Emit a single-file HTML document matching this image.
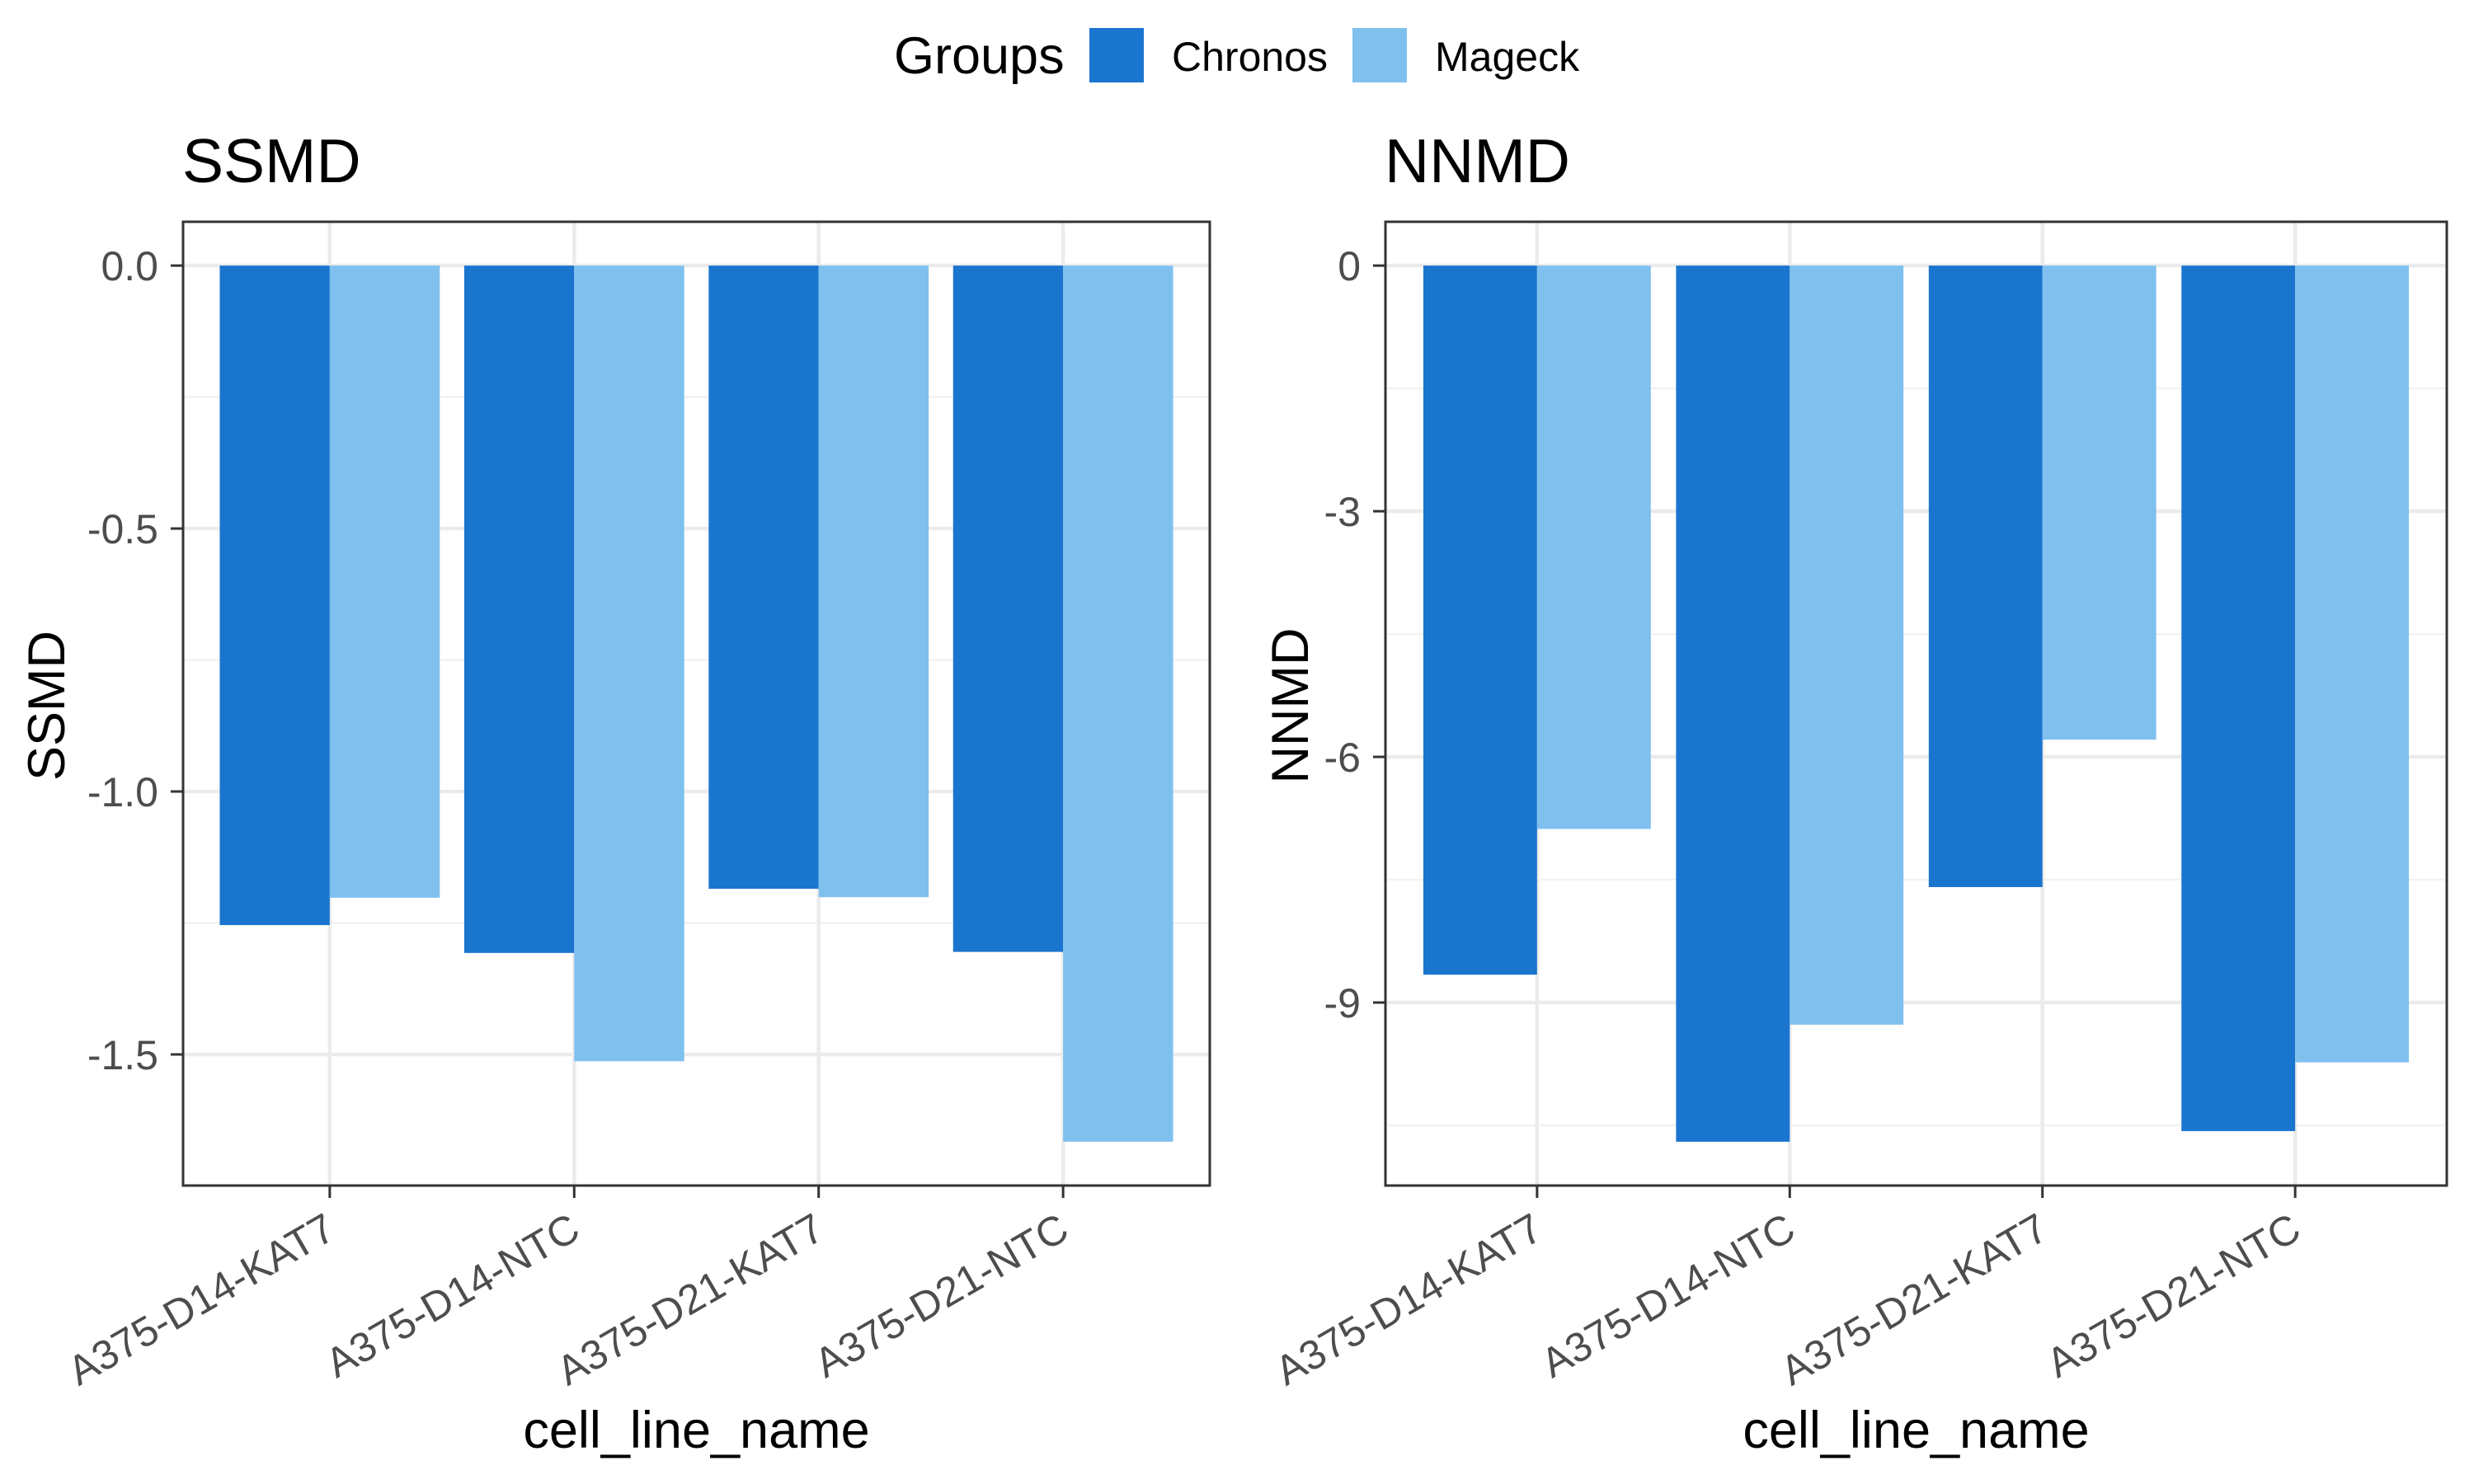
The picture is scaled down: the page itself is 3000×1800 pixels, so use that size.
<!DOCTYPE html>
<html><head><meta charset="utf-8"><style>
html,body{margin:0;padding:0;background:#fff;}
svg{display:block;font-family:"Liberation Sans",Arial,sans-serif;}
</style></head><body>
<svg id="chart" width="3000" height="1800" viewBox="0 0 3000 1800">
  <g id="legend">
    <text x="1084" y="89" font-size="63" fill="#000">Groups</text>
    <rect x="1321" y="34" width="66" height="66" fill="#1A75CF"/>
    <text x="1421" y="86" font-size="50" fill="#000">Chronos</text>
    <rect x="1640" y="34" width="66" height="66" fill="#7FC0EE"/>
    <text x="1740" y="86" font-size="50" fill="#000">Mageck</text>
  </g>
  <g id="p1"></g>
  <g id="p2"></g>
</svg>
<script>
const categories = ["A375-D14-KAT7","A375-D14-NTC","A375-D21-KAT7","A375-D21-NTC"];
const ssmdChronos = [-1.254, -1.307, -1.185, -1.305];
const ssmdMageck = [-1.202, -1.513, -1.201, -1.666];
const nnmdChronos = [-8.66, -10.70, -7.59, -10.57];
const nnmdMageck = [-6.88, -9.27, -5.79, -9.73];
const ssmdTicks = [0, -0.5, -1.0, -1.5];
const ssmdTickLabels = ["0.0","-0.5","-1.0","-1.5"];
const ssmdMinor = [-0.25, -0.75, -1.25];
const nnmdTicks = [0, -3, -6, -9];
const nnmdTickLabels = ["0","-3","-6","-9"];
const nnmdMinor = [-1.5, -4.5, -7.5, -10.5];

const NS = "http://www.w3.org/2000/svg";
function mk(parent, tag, attrs, text) {
  const e = document.createElementNS(NS, tag);
  for (const k in attrs) e.setAttribute(k, attrs[k]);
  if (text !== undefined) e.textContent = text;
  parent.appendChild(e);
  return e;
}

function drawPanel(g, cfg) {
  const L = cfg.left, R = cfg.right, T = 269, B = 1438;
  const min = Math.min(...cfg.c, ...cfg.m);
  const span = -min;
  const yMax = 0.05 * span, yMin = min - 0.05 * span;
  const y = v => T + (yMax - v) / (yMax - yMin) * (B - T);
  const step = (R - L) / (categories.length + 0.2);
  const x = i => L + step * (0.6 + i);

  let bg = mk(g, "rect", {x: L, y: T, width: R - L, height: B - T, fill: "#fff"});
  
  

  cfg.minor.forEach(v => {
    let l = mk(g, "line", {x1: L, x2: R, y1: y(v), y2: y(v), stroke: "#F2F2F2", "stroke-width": 2.5});
    
    
  });
  cfg.ticks.forEach(v => {
    let l = mk(g, "line", {x1: L, x2: R, y1: y(v), y2: y(v), stroke: "#EBEBEB", "stroke-width": 4.5});
    
    
  });
  categories.forEach((c, i) => {
    let l = mk(g, "line", {x1: x(i), x2: x(i), y1: T, y2: B, stroke: "#EBEBEB", "stroke-width": 4.5});
    
    
  });

  const bw = step * 0.45;
  categories.forEach((c, i) => {
    let b1 = mk(g, "rect", {x: x(i) - bw, y: y(0), width: bw, height: y(cfg.c[i]) - y(0), fill: "#1A75CF"});
    
    
    let b2 = mk(g, "rect", {x: x(i), y: y(0), width: bw, height: y(cfg.m[i]) - y(0), fill: "#7FC0EE"});
    
    
  });

  let br = mk(g, "rect", {x: L, y: T, width: R - L, height: B - T, fill: "none", stroke: "#333", "stroke-width": 3});
  
  

  cfg.ticks.forEach((v, k) => {
    let t = mk(g, "line", {x1: L - 15, x2: L, y1: y(v), y2: y(v), stroke: "#333", "stroke-width": 3});
    
    
    let tl = mk(g, "text", {x: L - 30, y: y(v) + 18, "text-anchor": "end", "font-size": 50, fill: "#4D4D4D"}, cfg.labels[k]);
    
    
  });
  categories.forEach((c, i) => {
    let t = mk(g, "line", {x1: x(i), x2: x(i), y1: B, y2: B + 15, stroke: "#333", "stroke-width": 3});
    
    
    let tl = mk(g, "text", {transform: "translate(" + (x(i) + 10) + ",1500) rotate(-30)", "text-anchor": "end", "font-size": 50, fill: "#4D4D4D"}, c);
    
    
  });

  let ti = mk(g, "text", {x: L - 1, y: 221, "font-size": 75, fill: "#000"}, cfg.title);
  
  
  let yt = mk(g, "text", {transform: "translate(" + cfg.yTitleX + ",856) rotate(-90)", "text-anchor": "middle", "font-size": 63, fill: "#000"}, cfg.title);
  
  
  let xt = mk(g, "text", {x: (L + R) / 2, y: 1756, "text-anchor": "middle", "font-size": 63, fill: "#000"}, "cell_line_name");
  
  
}

drawPanel(document.getElementById('p1'), {id: 'ssmd', left: 222, right: 1467, c: ssmdChronos, m: ssmdMageck, ticks: ssmdTicks, labels: ssmdTickLabels, minor: ssmdMinor, title: 'SSMD', yTitleX: 78});
drawPanel(document.getElementById('p2'), {id: 'nnmd', left: 1680, right: 2967, c: nnmdChronos, m: nnmdMageck, ticks: nnmdTicks, labels: nnmdTickLabels, minor: nnmdMinor, title: 'NNMD', yTitleX: 1586});
</script>
</body></html>
